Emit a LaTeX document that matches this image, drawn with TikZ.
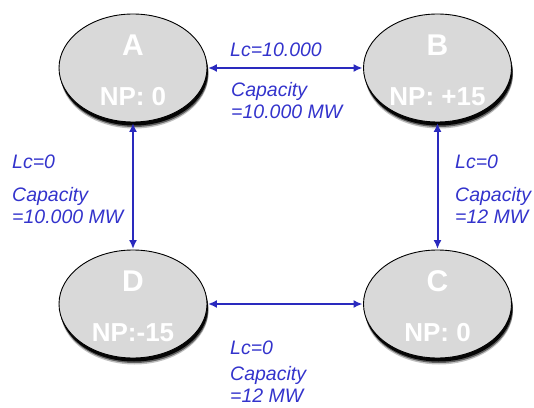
\documentclass[tikz,border=0pt]{standalone}
\usepackage{fontspec}
\setmainfont{Liberation Sans}
\usetikzlibrary{shapes.geometric,shadows,arrows.meta}
\definecolor{lblue}{RGB}{51,51,204}
\definecolor{ablue}{RGB}{42,42,190}
\definecolor{nodegray}{RGB}{217,217,217}
\begin{document}
\begin{tikzpicture}[x=1pt,y=1pt,
  market/.style={ellipse, draw=black, line width=0.9pt, fill=nodegray,
    minimum width=148pt, minimum height=108pt, inner sep=0pt,
    drop shadow={shadow xshift=1.5pt, shadow yshift=-6.5pt, opacity=0.25, fill=black},
    drop shadow={shadow xshift=1.5pt, shadow yshift=-5pt, opacity=0.5, fill=black},
    drop shadow={shadow xshift=1pt, shadow yshift=-3.5pt, opacity=0.95, fill=black}},
  letter/.style={text=white, font=\bfseries\fontsize{30}{30}\selectfont, inner sep=0pt},
  nplabel/.style={text=white, font=\bfseries\fontsize{26}{26}\selectfont, inner sep=0pt},
  info/.style={text=lblue, font=\itshape\fontsize{19.5}{22}\selectfont, anchor=west, inner sep=0pt, align=left},
  link/.style={draw=ablue, line width=2pt, {Latex[length=9pt,width=8pt]}-{Latex[length=9pt,width=8pt]}, shorten >=0.5pt, shorten <=0.5pt}
]
\useasboundingbox (0,0) rectangle (534,407);

% markets
\node[market] (A) at (133,339) {};
\node[market] (B) at (437.5,339) {};
\node[market] (D) at (133,103) {};
\node[market] (C) at (437.5,103) {};

\node[letter] (Al) at ([yshift=23pt]A.center) {A};
\node[nplabel] (An) at ([yshift=-29pt]A.center) {NP: 0};
\node[letter] (Bl) at ([yshift=23pt]B.center) {B};
\node[nplabel] (Bn) at ([yshift=-29pt]B.center) {NP: +15};
\node[letter] (Dl) at ([yshift=23pt]D.center) {D};
\node[nplabel] (Dn) at ([yshift=-29pt]D.center) {NP:-15};
\node[letter] (Cl) at ([yshift=23pt]C.center) {C};
\node[nplabel] (Cn) at ([yshift=-29pt]C.center) {NP: 0};

% links
\draw[link] (A.east) -- (B.west);
\draw[link] (A.south) -- (D.north);
\draw[link] (B.south) -- (C.north);
\draw[link] (D.east) -- (C.west);

% labels
\node[info] (t1) at (230,357) {Lc=10.000};
\node[info] (t2) at (231,306) {Capacity\\=10.000 MW};
\node[info] (l1) at (12,245) {Lc=0};
\node[info] (l2) at (12,201) {Capacity\\=10.000 MW};
\node[info] (r1) at (455,245) {Lc=0};
\node[info] (r2) at (455,202) {Capacity\\=12 MW};
\node[info] (b1) at (230,59) {Lc=0};
\node[info] (b2) at (230,23) {Capacity\\=12 MW};
\end{tikzpicture}
\end{document}
